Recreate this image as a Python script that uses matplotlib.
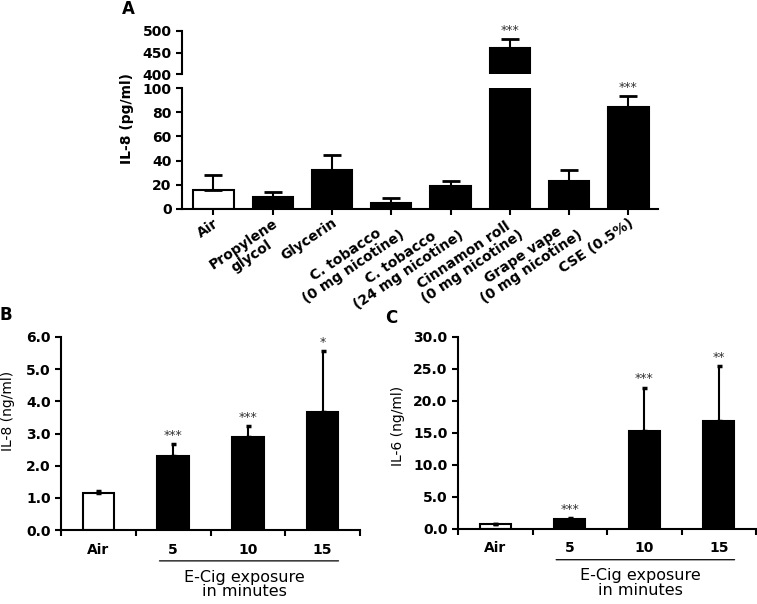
import matplotlib
matplotlib.use("Agg")
import matplotlib.pyplot as plt
import numpy as np

plt.rcParams['font.family'] = ['DejaVu Sans']

# ---------------- data ----------------
a_labels = ["Air", "Propylene\nglycol", "Glycerin", "C. tobacco\n(0 mg nicotine)",
            "C. tobacco\n(24 mg nicotine)", "Cinnamon roll\n(0 mg nicotine)",
            "Grape vape\n(0 mg nicotine)", "CSE (0.5%)"]
a_means = [16, 10, 32, 5, 19, 460, 23, 84]
a_err_top = [28, 14, 45, 9, 23, 481, 32, 93]
a_stars = ["", "", "", "", "", "***", "", "***"]
a_colors = ["white"] + ["black"] * 7

bc_labels = ["Air", "5", "10", "15"]
b_means = [1.15, 2.3, 2.9, 3.67]
b_err_top = [1.22, 2.67, 3.23, 5.55]
b_stars = ["", "***", "***", "*"]
c_means = [0.75, 1.5, 15.3, 16.9]
c_err_top = [0.85, 1.7, 22.1, 25.5]
c_stars = ["", "***", "***", "**"]
bc_colors = ["white", "black", "black", "black"]

W, H = 757, 604
fig = plt.figure(figsize=(W / 100, H / 100), dpi=100)

def frac(x0, y0, x1, y1):
    return [x0 / W, 1 - y1 / H, (x1 - x0) / W, (y1 - y0) / H]

LW = 1.5
TFS = 10

def style(ax):
    for s in ["top", "right"]:
        ax.spines[s].set_visible(False)
    for s in ["left", "bottom"]:
        ax.spines[s].set_linewidth(LW)
    ax.tick_params(width=LW, length=4, labelsize=TFS)
    for lab in ax.get_yticklabels():
        lab.set_fontweight("bold")

# ---------------- panel A ----------------
axA = fig.add_axes(frac(182, 88, 658, 209))
axAt = fig.add_axes(frac(182, 31, 658, 74))
x = np.arange(len(a_means))
for ax in (axA, axAt):
    ax.bar(x, a_means, width=0.68, color=a_colors, edgecolor="black", linewidth=LW, zorder=2)
    lo = np.zeros(len(a_means))
    hi = np.array(a_err_top) - np.array(a_means)
    ax.errorbar(x, a_means, yerr=[lo, hi], fmt="none", ecolor="black",
                elinewidth=LW, capsize=6.5, capthick=2, zorder=3)
    ax.set_xlim(-0.53, 7.5)
axA.set_ylim(0, 100)
axAt.set_ylim(400, 500)
axA.set_yticks([0, 20, 40, 60, 80, 100])
axAt.set_yticks([400, 450, 500])
style(axA)
style(axAt)
axAt.spines["bottom"].set_visible(False)
axAt.set_xticks([])
axA.set_xticks(x)
axA.set_xticklabels(a_labels, rotation=34, ha="right", va="top",
                    rotation_mode="anchor", fontweight="bold", fontsize=TFS,
                    multialignment="center", linespacing=1.05)
axA.tick_params(axis="x", pad=1)
for i, s in enumerate(a_stars):
    if s:
        tgt = axAt if a_err_top[i] > 100 else axA
        tgt.annotate(s, (x[i], a_err_top[i]), xytext=(0, 1.5), textcoords="offset points",
                     ha="center", va="bottom", fontsize=9, color="#333333", clip_on=False)
fig.text(127 / W, 1 - 119 / H, "IL-8 (pg/ml)", rotation=90, ha="center", va="center",
         fontsize=TFS, fontweight="bold")
fig.text(128 / W, 1 - 9 / H, "A", ha="center", va="center", fontsize=12, fontweight="bold")

# ---------------- panels B, C ----------------
def panel(rect, means, err_top, stars, ylim, step, ylabel, ylab_xy, letter_xy, letter):
    ax = fig.add_axes(rect)
    xx = np.arange(len(means))
    ax.bar(xx, means, width=0.42, color=bc_colors, edgecolor="black", linewidth=LW, zorder=2)
    lo = np.zeros(len(means))
    hi = np.array(err_top) - np.array(means)
    ax.errorbar(xx, means, yerr=[lo, hi], fmt="none", ecolor="black",
                elinewidth=LW, capsize=1.8, capthick=2.5, zorder=3)
    ax.set_xlim(-0.5, 3.5)
    ax.set_ylim(*ylim)
    ticks = np.arange(ylim[0], ylim[1] + 0.001, step)
    ax.set_yticks(ticks)
    ax.set_yticklabels([f"{v:.1f}" for v in ticks])
    ax.set_xticks([-0.5, 0.5, 1.5, 2.5, 3.5])
    ax.set_xticklabels([])
    ax.set_xticks(xx, bc_labels, minor=True)
    style(ax)
    ax.tick_params(axis="x", which="minor", length=0, pad=9)
    for lab in ax.get_xticklabels(minor=True):
        lab.set_fontweight("bold")
        lab.set_fontsize(TFS)
    for i, s in enumerate(stars):
        if s:
            ax.annotate(s, (xx[i], err_top[i]), xytext=(0, 1.5), textcoords="offset points",
                        ha="center", va="bottom", fontsize=9, color="#333333")
    ax.annotate("", xy=(0.78, -0.16), xytext=(3.25, -0.16),
                xycoords=("data", "axes fraction"), textcoords=("data", "axes fraction"),
                arrowprops=dict(arrowstyle="-", lw=0.9, color="black"))
    ax.annotate("E-Cig exposure\nin minutes", xy=(1.95, -0.205),
                xycoords=("data", "axes fraction"), ha="center", va="top",
                fontsize=11.5, linespacing=0.95)
    fig.text(ylab_xy[0] / W, 1 - ylab_xy[1] / H, ylabel, rotation=90, ha="center",
             va="center", fontsize=TFS)
    fig.text(letter_xy[0] / W, 1 - letter_xy[1] / H, letter, ha="center", va="center",
             fontsize=12, fontweight="bold")
    return ax

panel(frac(61, 337, 360, 530), b_means, b_err_top, b_stars, (0, 6), 1.0,
      "IL-8 (ng/ml)", (8, 411), (6, 315), "B")
panel(frac(458, 337, 756, 529), c_means, c_err_top, c_stars, (0, 30), 5.0,
      "IL-6 (ng/ml)", (398, 426), (391, 318), "C")

fig.savefig("out.png", dpi=100)
